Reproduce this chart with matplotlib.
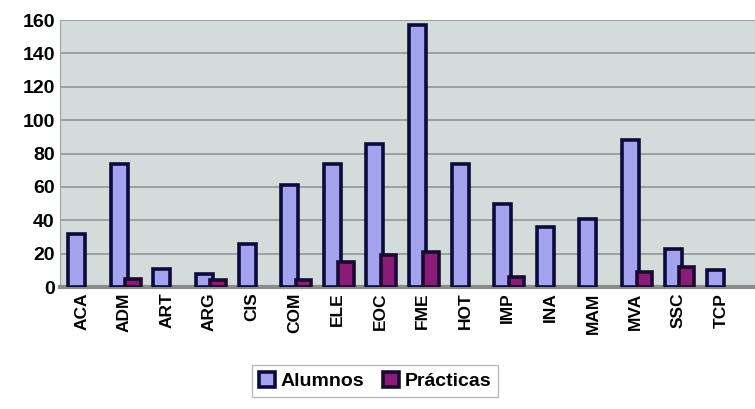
import matplotlib.pyplot as plt
import numpy as np

# datos
ciclos = ['ACA', 'ADM', 'ART', 'ARG', 'CIS', 'COM', 'ELE', 'EOC',
          'FME', 'HOT', 'IMP', 'INA', 'MAM', 'MVA', 'SSC', 'TCP']
alumnos = [32, 74, 11, 8, 26, 61, 74, 86, 157, 74, 50, 36, 41, 88, 23, 10]
practicas = [0, 5, 0, 4, 0, 4, 15, 19, 21, 0, 6, 0, 0, 9, 12, 0]
yticks = [0, 20, 40, 60, 80, 100, 120, 140, 160]

plt.rcParams['font.family'] = ['Liberation Sans', 'DejaVu Sans']

fig = plt.figure(figsize=(7.55, 4.09), dpi=100)
ax = fig.add_axes([0.08, 0.298, 0.92, 0.653])
ax.set_facecolor('#d3dbdb')

x = np.arange(len(ciclos))
ax.bar(x - 0.12, alumnos, width=0.4, color='#a3a3f0', edgecolor='#0b0b3c',
       linewidth=2.6, label='Alumnos', zorder=3)
pr = [p if p > 0 else np.nan for p in practicas]
ax.bar(x + 0.2, pr, width=0.36, color='#8a1c78', edgecolor='#1a0a30',
       linewidth=2.6, label='Prácticas', zorder=4)

ax.set_ylim(0, 160)
ax.set_xlim(-0.5, len(ciclos) - 0.2)
ax.set_yticks(yticks)
ax.set_yticklabels([str(v) for v in yticks], fontsize=14, fontweight='bold')
ax.set_xticks(x)
ax.set_xticklabels(ciclos, rotation=90, fontsize=12.5, fontweight='bold')
ax.tick_params(length=0, pad=4)
ax.yaxis.grid(True, color='#8e9898', linewidth=1.2, zorder=0)

for s in ['top', 'right']:
    ax.spines[s].set_visible(False)
ax.spines['left'].set_color('#9aa4a4')
ax.spines['bottom'].set_color('#8a8a8a')
ax.spines['bottom'].set_linewidth(3)

leg = fig.legend(loc='center', bbox_to_anchor=(0.497, 0.068), ncol=2,
                 prop={'weight': 'bold', 'size': 14}, frameon=True,
                 fancybox=False, edgecolor='#aaaaaa', handlelength=0.8,
                 handleheight=0.8, columnspacing=1.0, handletextpad=0.3,
                 borderpad=0.35)

fig.savefig('out.png', dpi=100)
